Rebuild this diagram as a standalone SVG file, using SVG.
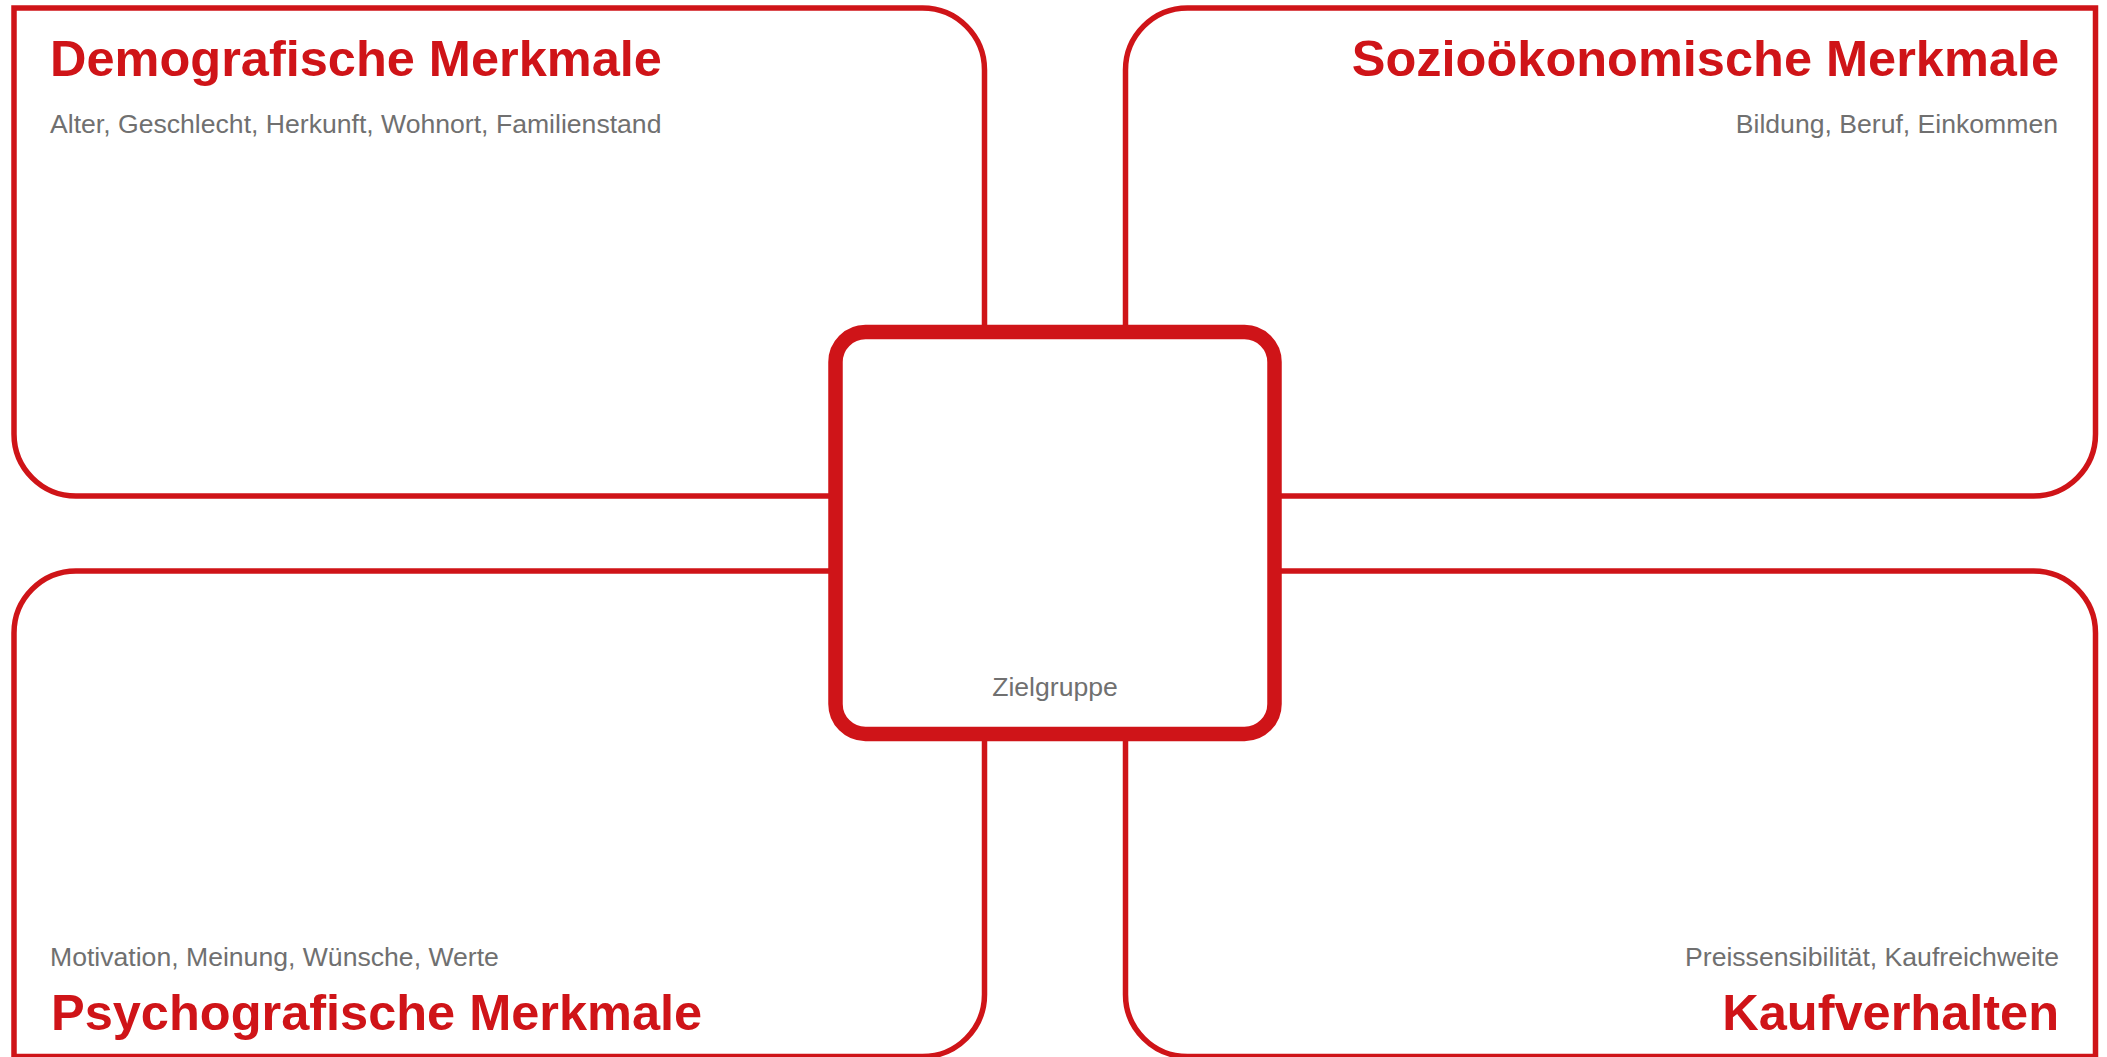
<svg xmlns="http://www.w3.org/2000/svg" width="2107" height="1057" viewBox="0 0 2107 1057">
  <style>
    .box { fill: #ffffff; stroke: #cf1418; stroke-width: 5.5; }
    .core { fill: #ffffff; stroke: #cf1418; stroke-width: 14.5; }
    .title { font-family: "Liberation Sans", Arial, sans-serif; font-weight: bold; font-size: 50.5px; fill: #cf1418; }
    .sub { font-family: "Liberation Sans", Arial, sans-serif; font-size: 26.6px; fill: #707070; }
    .end { text-anchor: end; }
  </style>
  <rect width="2107" height="1057" fill="#ffffff"/>
  <g id="demografisch">
    <path class="box" d="M14,8 H922.5 A62,62 0 0 1 984.5,70 V434 A62,62 0 0 1 922.5,496 H76 A62,62 0 0 1 14,434 Z"/>
    <text class="title" x="50" y="76">Demografische Merkmale</text>
    <text class="sub" x="50" y="133">Alter, Geschlecht, Herkunft, Wohnort, Familienstand</text>
  </g>
  <g id="soziooekonomisch">
    <path class="box" d="M2095.5,8 H1187.5 A62,62 0 0 0 1125.5,70 V434 A62,62 0 0 0 1187.5,496 H2033.5 A62,62 0 0 0 2095.5,434 Z"/>
    <text class="title end" x="2059" y="76">Sozioökonomische Merkmale</text>
    <text class="sub end" x="2058" y="133">Bildung, Beruf, Einkommen</text>
  </g>
  <g id="psychografisch">
    <path class="box" d="M14,1056.5 H922.5 A62,62 0 0 0 984.5,994.5 V633 A62,62 0 0 0 922.5,571 H76 A62,62 0 0 0 14,633 Z"/>
    <text class="sub" x="50" y="966">Motivation, Meinung, Wünsche, Werte</text>
    <text class="title" x="51" y="1030">Psychografische Merkmale</text>
  </g>
  <g id="kaufverhalten">
    <path class="box" d="M2095.5,1056.5 H1187.5 A62,62 0 0 1 1125.5,994.5 V633 A62,62 0 0 1 1187.5,571 H2033.5 A62,62 0 0 1 2095.5,633 Z"/>
    <text class="sub end" x="2059" y="966">Preissensibilität, Kaufreichweite</text>
    <text class="title end" x="2059" y="1030">Kaufverhalten</text>
  </g>
  <g id="zielgruppe">
    <rect class="core" x="835.5" y="332" width="439" height="402" rx="30" ry="30"/>
    <text class="sub" x="1055" y="696" text-anchor="middle">Zielgruppe</text>
  </g>
</svg>
